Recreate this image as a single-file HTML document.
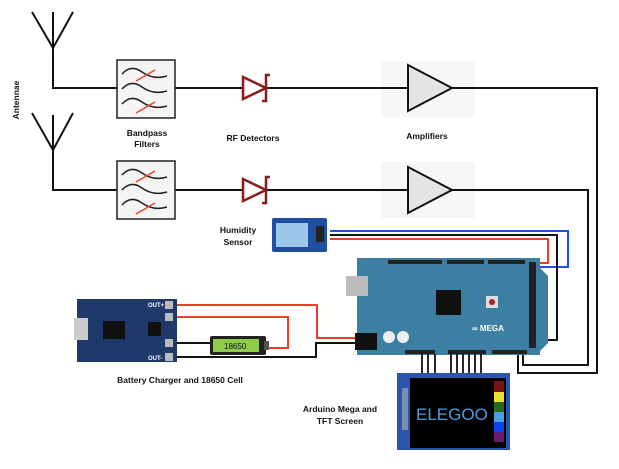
<!DOCTYPE html>
<html><head><meta charset="utf-8"><style>
html,body{margin:0;padding:0;background:#fff;}
svg{display:block;}
text{font-family:"Liberation Sans",sans-serif;font-weight:bold;font-size:8.5px;fill:#111;}
</style></head><body>
<svg width="619" height="469" viewBox="0 0 619 469" xmlns="http://www.w3.org/2000/svg">
<g stroke="#111" stroke-width="2" fill="none">
 <!-- antennas -->
 <path d="M32 12 L53 48 L73 12 M53 12 L53 88 L117 88"/>
 <path d="M32 113 L53 150 L73 113 M53 115 L53 190 L117 190"/>
 <!-- line to diodes / amps -->
 <path d="M175 88 L408 88 M452 88 L597 88 L597 373 L518 373 L518 352"/>
 <path d="M175 190 L408 190 M452 190 L588 190 L588 365 L523 365 L523 352"/>
</g>
<!-- amp background -->
<rect x="381" y="61" width="94" height="56" fill="#f6f6f6"/>
<rect x="381" y="162" width="94" height="56" fill="#f6f6f6"/>
<g stroke="#111" stroke-width="2" fill="none">
 <path d="M381 88 L408 88 M452 88 L475 88 M381 190 L408 190 M452 190 L475 190"/>
</g>
<polygon points="408,65 408,111 452,88" fill="#e4e4e4" stroke="#111" stroke-width="2"/>
<polygon points="408,167 408,213 452,190" fill="#e4e4e4" stroke="#111" stroke-width="2"/>
<!-- filters -->
<g id="f1">
<rect x="117" y="60" width="58" height="58" fill="#f4f4f4" stroke="#222" stroke-width="1.5"/>
<g stroke="#222" stroke-width="1.5" fill="none">
<path d="M122 74 Q131 64 142 72 T167 76"/>
<path d="M122 89 Q131 79 142 87 T167 91"/>
<path d="M122 104 Q131 94 142 102 T167 106"/>
</g>
<g stroke="#e8452a" stroke-width="1.5"><path d="M136 81 L155 70 M136 113 L155 102"/></g>
</g>
<use href="#f1" transform="translate(0,101)"/>
<!-- diodes -->
<g id="d1" stroke="#8b1a1a" stroke-width="2.5" fill="#fff">
<polygon points="243,77 243,99 266,88"/>
<path d="M270 75 L266 75 L266 101 L262 101" fill="none"/>
</g>
<use href="#d1" transform="translate(0,102)"/>
<!-- humidity wires -->
<g fill="none" stroke-width="2">
 <path d="M330 231 L568 231 L568 267 L533 267" stroke="#1f4fe6"/>
 <path d="M330 235 L557 235 L557 340 L533 340" stroke="#111"/>
 <path d="M330 239 L548 239 L548 263 L533 263" stroke="#e8402a"/>
</g>
<!-- sensor -->
<rect x="272" y="218" width="55" height="34" rx="2" fill="#1e4fa0"/>
<rect x="276" y="223" width="32" height="24" fill="#9cc6ea"/>
<rect x="316" y="226" width="8" height="16" fill="#222"/>
<!-- battery wires -->
<g fill="none" stroke-width="2">
 <path d="M172 305 L317 305 L317 338 L355 338" stroke="#e8402a"/>
 <path d="M172 317 L288 317 L288 348 L267 348" stroke="#e8402a"/>
 <path d="M172 343 L210 343" stroke="#111"/>
 <path d="M172 357 L316 357 L316 343 L355 343" stroke="#111"/>
</g>
<!-- charger -->
<rect x="77" y="299" width="100" height="63" fill="#1f3a6a"/>
<rect x="74" y="318" width="14" height="22" fill="#ccc"/>
<rect x="103" y="321" width="22" height="18" fill="#111"/>
<rect x="148" y="322" width="13" height="14" fill="#111"/>
<rect x="165" y="301" width="8" height="8" fill="#bbb"/>
<rect x="165" y="313" width="8" height="8" fill="#bbb"/>
<rect x="165" y="339" width="8" height="8" fill="#bbb"/>
<rect x="165" y="353" width="8" height="8" fill="#bbb"/>
<text x="148" y="307" style="font-size:6px;fill:#fff">OUT+</text>
<text x="148" y="360" style="font-size:6px;fill:#fff">OUT-</text>
<!-- battery -->
<rect x="210" y="336" width="56" height="19" rx="2" fill="#222"/>
<rect x="213" y="339" width="46" height="13" fill="#8fcc4a"/>
<rect x="264" y="341" width="5" height="9" fill="#555"/>
<text x="224" y="349" style="font-weight:normal;font-size:8px">18650</text>
<!-- mega -->
<path d="M357 258 L540 258 L540 268 L548 276 L548 343 L540 351 L540 355 L357 355 Z" fill="#3d7fa3"/>
<rect x="346" y="276" width="22" height="20" fill="#bbb"/>
<rect x="355" y="333" width="22" height="17" fill="#111"/>
<circle cx="389" cy="337" r="6" fill="#eee"/><circle cx="403" cy="337" r="6" fill="#eee"/>
<rect x="436" y="290" width="25" height="25" fill="#111"/>
<rect x="486" y="296" width="12" height="12" fill="#ddd"/><circle cx="492" cy="302" r="3" fill="#a22"/>
<rect x="388" y="260" width="54" height="4" fill="#222"/>
<rect x="447" y="260" width="37" height="4" fill="#222"/>
<rect x="488" y="260" width="37" height="4" fill="#222"/>
<rect x="529" y="262" width="7" height="86" fill="#222"/>
<rect x="405" y="350" width="30" height="4" fill="#222"/>
<rect x="448" y="350" width="38" height="4" fill="#222"/>
<rect x="492" y="350" width="35" height="4" fill="#222"/>
<text x="472" y="331" style="fill:#fff;font-size:8px">∞ MEGA</text>
<!-- screen pins -->
<g stroke="#111" stroke-width="1.8">
<path d="M422 354 L422 375 M428 354 L428 375 M435 354 L435 375 M451 354 L451 375 M457 354 L457 375 M463 354 L463 375 M469 354 L469 375 M475 354 L475 375 M481 354 L481 375"/>
</g>
<!-- screen -->
<rect x="397" y="373" width="113" height="77" fill="#2a56b0"/>
<rect x="410" y="378" width="96" height="70" fill="#000"/>
<rect x="402" y="388" width="6" height="42" fill="#7a8fb0"/>
<rect x="494" y="381" width="10" height="11" fill="#7a1212"/>
<rect x="494" y="392" width="10" height="10" fill="#e8e030"/>
<rect x="494" y="402" width="10" height="10" fill="#2b6a1e"/>
<rect x="494" y="412" width="10" height="10" fill="#4aa0e0"/>
<rect x="494" y="422" width="10" height="10" fill="#1040f0"/>
<rect x="494" y="432" width="10" height="10" fill="#6a1a6a"/>
<text x="416" y="420" style="font-size:17px;fill:#4a9ee0;font-weight:normal">ELEGOO</text>
<!-- labels -->
<text x="19" y="100" transform="rotate(-90 19 100)" text-anchor="middle">Antennae</text>
<text x="147" y="136" text-anchor="middle">Bandpass</text>
<text x="147" y="147" text-anchor="middle">Filters</text>
<text x="253" y="141" text-anchor="middle">RF Detectors</text>
<text x="427" y="139" text-anchor="middle">Amplifiers</text>
<text x="238" y="233" text-anchor="middle">Humidity</text>
<text x="238" y="245" text-anchor="middle">Sensor</text>
<text x="180" y="383" text-anchor="middle">Battery Charger and 18650 Cell</text>
<text x="340" y="412" text-anchor="middle">Arduino Mega and</text>
<text x="340" y="424" text-anchor="middle">TFT Screen</text>
</svg>
</body></html>
